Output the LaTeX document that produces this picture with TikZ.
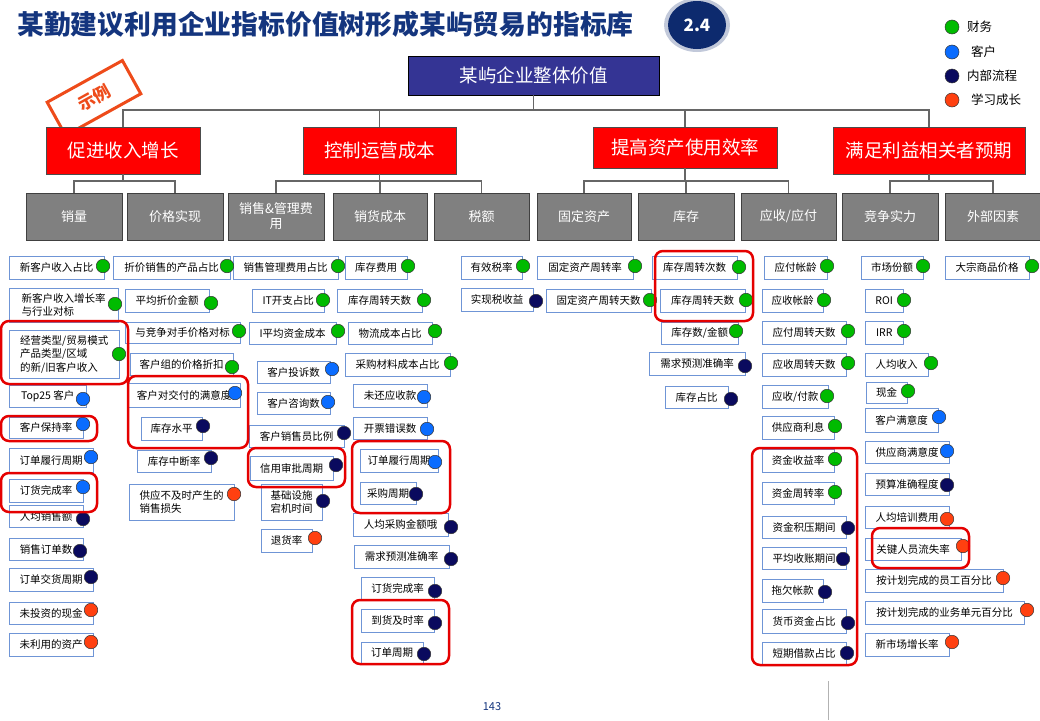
\documentclass[tikz,border=0pt]{standalone}
\usepackage{fontspec}
\setmainfont{Noto Sans CJK SC}
\usetikzlibrary{shapes.geometric}
\definecolor{titleblue}{HTML}{14357E}
\definecolor{badgeblue}{HTML}{0D2A6E}
\definecolor{valueblue}{HTML}{343494}
\definecolor{goalred}{HTML}{FF0000}
\definecolor{drivergray}{HTML}{808080}
\definecolor{metricedge}{HTML}{6F95D6}
\definecolor{stampred}{HTML}{EE4B1A}
\definecolor{finance}{HTML}{00BB00}
\definecolor{customer}{HTML}{0A6CFF}
\definecolor{process}{HTML}{0A0A5E}
\definecolor{learning}{HTML}{FF4010}
\tikzset{
  goal/.style={draw=black!70, fill=goalred, text=white, inner sep=0pt,
    font=\fontsize{18.5}{20}\selectfont},
  driver/.style={draw=black!75, fill=drivergray, text=white, inner sep=0pt,
    align=center, minimum height=47pt, font=\fontsize{13}{15}\selectfont},
  metric/.style={draw=metricedge, fill=white, inner sep=0pt, anchor=north west,
    align=left, font=\fontsize{10.5}{13.5}\selectfont},
  kpidot/.style={circle, draw=black!80, line width=0.5pt, inner sep=0pt,
    minimum size=13.5pt},
  hilite/.style={draw=red!90!black, line width=2.5pt, rounded corners=8pt},
  bus/.style={draw=black!60, line width=1.5pt},
}
% Metrics: left, top, right, bottom, dot x, dot y, kind, text
\def\kpilist{
  9/256/104/279/103/266/finance/新客户收入占比,
  9/288/118/322/115/304/finance/{新客户收入增长率\\与行业对标},
  9/330/119/378/119/354/finance/{经营类型/贸易模式\\产品类型/区域\\的新/旧客户收入},
  9/385/86/407/83/399/customer/Top25 客户,
  9/417/83/438/83/424/customer/客户保持率,
  9/448/93/472/91/457/customer/订单履行周期,
  9/479/83/502/83/487/customer/订货完成率,
  9/505/83/527/83/519/process/人均销售额,
  9/538/83/560/80/551/process/销售订单数,
  9/568/93/591/91/577/process/订单交货周期,
  9/602/93/624/91/610/learning/未投资的现金,
  9/633/93/656/91/642/learning/未利用的资产,
  113/256/230/279/227/266/finance/折价销售的产品占比,
  125/289/209/312/211/303/finance/平均折价金额,
  125/322/240/343/239/331/finance/与竞争对手价格对标,
  130/353/233/375/232/367/finance/客户组的价格折扣,
  128/383/240/407/235/393/customer/客户对交付的满意度,
  141/417/202/440/203/426/process/库存水平,
  137/450/211/472/211/458/process/库存中断率,
  129/484/234/520/234/494/learning/{供应不及时产生的\\销售损失},
  233/256/338/279/338/266/finance/销售管理费用占比,
  252/289/324/312/323/300/finance/IT开支占比,
  249/322/336/344/338/331/finance/I平均资金成本,
  257/361/330/383/332/369/customer/客户投诉数,
  257/392/330/414/328/402/customer/客户咨询数,
  249/425/344/447/344/433/process/客户销售员比例,
  250/456/333/480/336/465/process/信用审批周期,
  261/484/322/520/323/501/process/{基础设施\\宕机时间},
  261/529/312/552/315/538/learning/退货率,
  345/256/407/279/408/266/finance/库存费用,
  337/289/422/312/424/300/finance/库存周转天数,
  348/322/432/344/435/331/finance/物流成本占比,
  345/353/450/376/451/363/finance/采购材料成本占比,
  353/384/427/407/424/397/customer/未还应收款,
  353/417/427/439/427/429/customer/开票错误数,
  360/449/438/472/435/462/customer/订单履行周期,
  360/482/416/504/416/494/process/采购周期,
  353/513/448/536/451/527/process/人均采购金额哦,
  354/545/449/568/451/559/process/需求预测准确率,
  361/577/434/600/435/591/process/订货完成率,
  361/609/434/632/435/623/process/到货及时率,
  361/642/423/663/424/654/process/订单周期,
  461/256/522/279/523/266/finance/有效税率,
  461/288/533/311/536/301/process/实现税收益,
  537/256/633/279/635/266/finance/固定资产周转率,
  546/289/651/312/650/300/finance/固定资产周转天数,
  652/256/737/279/739/267/finance/库存周转次数,
  660/289/745/312/746/300/finance/库存周转天数,
  661/322/738/344/736/331/finance/{库存数/金额},
  649/352/745/375/745/366/process/需求预测准确率,
  665/386/728/408/731/399/process/库存占比,
  764/256/827/279/827/266/finance/应付帐龄,
  762/289/823/312/824/300/finance/应收帐龄,
  762/321/846/344/848/331/finance/应付周转天数,
  762/353/846/376/848/363/finance/应收周转天数,
  762/385/828/408/827/396/finance/{应收/付款},
  762/416/834/439/835/426/finance/供应商利息,
  762/449/834/472/835/459/finance/资金收益率,
  762/482/834/504/835/492/finance/资金周转率,
  762/516/846/538/848/528/process/资金积压期间,
  762/547/846/569/843/559/process/平均收账期间,
  762/579/823/602/825/592/process/拖欠帐款,
  762/609/846/633/848/623/process/货币资金占比,
  762/642/846/664/847/653/process/短期借款占比,
  861/256/923/279/923/266/finance/市场份额,
  865/289/903/312/904/300/finance/ROI,
  865/321/903/344/904/331/finance/IRR,
  865/353/928/376/931/363/finance/人均收入,
  866/382/907/403/908/391/finance/现金,
  865/408/938/432/939/417/customer/客户满意度,
  865/441/949/463/947/451/customer/供应商满意度,
  865/473/949/495/947/485/process/预算准确程度,
  865/506/949/528/947/519/learning/人均培训费用,
  865/538/961/560/963/546/learning/关键人员流失率,
  865/569/1003/592/1003/578/learning/按计划完成的员工百分比,
  865/601/1024/624/1027/610/learning/按计划完成的业务单元百分比,
  865/633/949/656/952/642/learning/新市场增长率,
  945/256/1029/279/1032/266/finance/大宗商品价格}

\begin{document}
\begin{tikzpicture}[x=1pt, y=-1pt]
  \useasboundingbox (0,0) rectangle (1040,720);
  \fill[white] (0,0) rectangle (1040,720);

  % Title and badge
  \node[anchor=west, inner sep=0pt, text=titleblue,
    font=\bfseries\fontsize{26.8}{28}\selectfont] (title) at (17,24)
    {某勤建议利用企业指标价值树形成某屿贸易的指标库};
  \fill[badgeblue, opacity=0.25] (697,25) ellipse [x radius=33pt, y radius=27pt];
  \node[ellipse, fill=badgeblue, minimum width=58pt, minimum height=48pt, text=white,
    font=\bfseries\fontsize{17}{17}\selectfont] (badge) at (697,25) {2.4};

  % Legend
  \foreach \y/\kind/\dx/\lab in {27/finance/967/财务, 52/customer/971/客户,
      76/process/967/内部流程, 100/learning/971/学习成长} {
    \node[kpidot, fill=\kind, minimum size=14pt] (key\kind) at (952,\y) {};
    \node[anchor=west, inner sep=0pt, font=\fontsize{12.5}{13}\selectfont]
      (keylab\kind) at (\dx,\y) {\lab};
  }

  % Stamp (behind the first goal)
  \node[draw=stampred, line width=3pt, rotate=29,
    minimum width=86pt, minimum height=38pt] (stamp) at (94,98) {};
  \node[text=stampred, rotate=29, inner sep=0pt,
    font=\bfseries\fontsize{17}{17}\selectfont] (stamptext) at (stamp.center) {示例};

  % Top value and goals
  \node[draw=black, fill=valueblue, text=white, minimum width=251pt, minimum height=39pt,
    font=\fontsize{18.5}{20}\selectfont] (value) at (533.5,75.5) {某屿企业整体价值};
  \node[goal, minimum width=154pt, minimum height=47pt] (goal1) at (123,150.5) {促进收入增长};
  \node[goal, minimum width=153pt, minimum height=47pt] (goal2) at (379.5,150.5) {控制运营成本};
  \node[goal, minimum width=184pt, minimum height=41pt] (goal3) at (685,147.5) {提高资产使用效率};
  \node[goal, minimum width=192pt, minimum height=47pt] (goal4) at (929,150.5) {满足利益相关者预期};

  % Drivers
  \foreach \x/\w/\lab [count=\i] in {74/96/销量, 175/96/价格实现,
      276/96/{销售\&管理费\\用}, 380/94/销货成本, 481.5/95/税额, 584/94/固定资产,
      686/96/库存, 788.5/95/{应收/应付}, 890/96/竞争实力, 993/96/外部因素} {
    \node[driver, minimum width=\w pt] (drv\i) at (\x,216.5) {\lab};
  }

  % Tree connectors
  \foreach \g in {1,...,4}
    \draw[bus] (value.south) -- (value.south |- 0,110) -| (goal\g.north);
  \foreach \g/\d in {1/1, 1/2, 2/3, 2/4, 2/5, 3/6, 3/7, 3/8, 4/9, 4/10}
    \draw[bus] (goal\g.south) -- (goal\g.south |- 0,181) -| (drv\d.north);

  % Metric boxes, then their dots on top
  \foreach \xa/\ya/\xb/\yb/\cx/\cy/\kind/\txt [count=\i] in \kpilist {
    \pgfmathsetmacro\w{\xb-\xa}
    \pgfmathsetmacro\h{\yb-\ya}
    \node[metric, minimum width=\w pt, minimum height=\h pt] (kpi\i) at (\xa,\ya) {\txt};
  }
  \foreach \xa/\ya/\xb/\yb/\cx/\cy/\kind/\txt [count=\i] in \kpilist
    \node[kpidot, fill=\kind] (dot\i) at (\cx,\cy) {};

  % Highlights
  \foreach \xa/\ya/\xb/\yb in {1/321/128/384, 1/416/97/441, 1/473/97/512,
      128/376/248/448, 248/448/345/487, 352/441/450/513, 352/600/449/664,
      655/251/753/321, 752/448/857/665, 872/528/969/568}
    \draw[hilite] (\xa,\ya) rectangle (\xb,\yb);

  % Footer
  \node[text=titleblue, font=\fontsize{11}{11}\selectfont] (page) at (492,707) {143};
  \draw[black!30] (828,681) -- (828,720);
\end{tikzpicture}
\end{document}
